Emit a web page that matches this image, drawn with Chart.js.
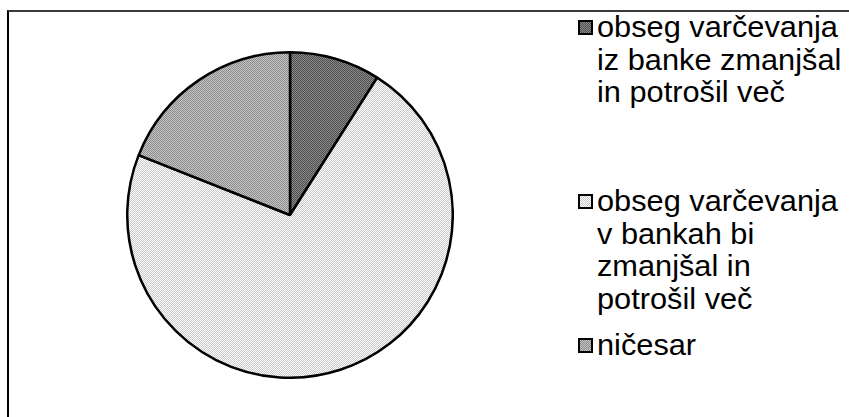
<!DOCTYPE html>
<html>
<head>
<meta charset="utf-8">
<script src="https://cdn.jsdelivr.net/npm/chart.js@4/dist/chart.umd.min.js"></script>
<style>
    body { margin: 0; background: #fff; width: 849px; height: 417px; overflow: hidden; position: relative; }
    #okvir { position: absolute; left: 7px; top: 10px; width: 900px; height: 500px;
             border-top: 2px solid #3a3a3a; border-left: 2px solid #000; }
    #platno { position: absolute; left: 126px; top: 51px; width: 328px; height: 328px; }
    .postavka { position: absolute; left: 578px; font-family: "Liberation Sans", Arial, sans-serif;
                font-size: 29px; line-height: 32.5px; color: #000; }
    .postavka canvas { position: absolute; left: 0; top: 9px; }
    .postavka div { margin-left: 19px; white-space: nowrap; transform: scaleX(1.06); transform-origin: left top; }
</style>
</head>
<body>
<div id="okvir"></div>
<div id="platno"><canvas id="tortaChart"></canvas></div>
<div id="legenda"></div>
<script>
    // Podatki grafa (deleži v %)
    const kategorije = [
        ["obseg varčevanja", "iz banke zmanjšal", "in potrošil več"],
        ["obseg varčevanja", "v bankah bi", "zmanjšal in", "potrošil več"],
        ["ničesar"]
    ];
    const vrednosti = [9, 72, 19];

    // Vzorci polnila (šrafure kot v Excelu)
    const barveVzorcev = [
        ["#4e4e4e", "#8a8a8a"],
        ["#ffffff", "#c8c8c8"],
        ["#8c8c8c", "#c4c4c4"]
    ];
    const zgorajLegende = [11, 185, 329];

    function narediVzorec(par) {
        const c = document.createElement("canvas");
        c.width = 2; c.height = 2;
        const g = c.getContext("2d");
        g.fillStyle = par[0];
        g.fillRect(0, 0, 2, 2);
        g.fillStyle = par[1];
        g.fillRect(0, 0, 1, 1);
        g.fillRect(1, 1, 1, 1);
        return c;
    }

    const vzorci = barveVzorcev.map(function(par) {
        return document.createElement("canvas").getContext("2d").createPattern(narediVzorec(par), "repeat");
    });

    const ctx = document.getElementById("tortaChart").getContext("2d");

    new Chart(ctx, {
        type: "pie",
        data: {
            labels: kategorije.map(function(v) { return v.join(" "); }),
            datasets: [{
                data: vrednosti,
                backgroundColor: vzorci,
                borderColor: "#000",
                borderWidth: 2.5
            }]
        },
        options: {
            responsive: true,
            maintainAspectRatio: false,
            animation: false,
            layout: { padding: 0 },
            plugins: {
                legend: { display: false },
                tooltip: { enabled: false }
            }
        }
    });

    // Legenda desno
    const legenda = document.getElementById("legenda");
    kategorije.forEach(function(vrstice, i) {
        const el = document.createElement("div");
        el.className = "postavka";
        el.style.top = zgorajLegende[i] + "px";
        const kv = document.createElement("canvas");
        kv.width = 15; kv.height = 15;
        const g = kv.getContext("2d");
        g.fillStyle = g.createPattern(narediVzorec(barveVzorcev[i]), "repeat");
        g.fillRect(0, 0, 15, 15);
        g.strokeStyle = "#000";
        g.lineWidth = 2;
        g.strokeRect(1, 1, 13, 13);
        el.appendChild(kv);
        const besedilo = document.createElement("div");
        besedilo.innerHTML = vrstice.join("<br>");
        el.appendChild(besedilo);
        legenda.appendChild(el);
    });
</script>
</body>
</html>
